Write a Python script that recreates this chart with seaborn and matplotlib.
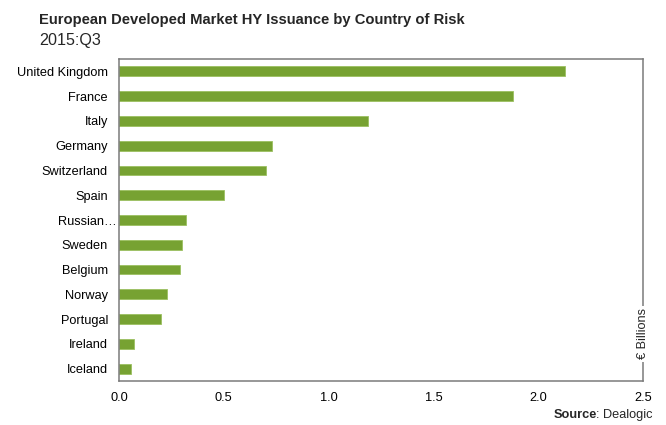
import matplotlib
matplotlib.use("Agg")
import matplotlib.pyplot as plt
import matplotlib.transforms as mtransforms
import seaborn as sns
import pandas as pd

countries = ["United Kingdom", "France", "Italy", "Germany", "Switzerland", "Spain",
             "Russian\u2026", "Sweden", "Belgium", "Norway", "Portugal", "Ireland", "Iceland"]
issuance = [2.13, 1.88, 1.19, 0.73, 0.70, 0.50, 0.32, 0.30, 0.29, 0.23, 0.20, 0.073, 0.057]
x_ticks = [0.0, 0.5, 1.0, 1.5, 2.0, 2.5]

df = pd.DataFrame({"country": countries, "value": issuance})

sns.set_style("white")
plt.rcParams["font.family"] = ["Liberation Sans", "DejaVu Sans"]

fig = plt.figure(figsize=(6.66, 4.25), dpi=100)
ax = fig.add_axes([0.1787, 0.1035, 0.7868, 0.7577])

sns.barplot(data=df, x="value", y="country", color="#77A232", width=0.4,
            saturation=1, edgecolor="#9CC060", linewidth=0.6, ax=ax, orient="h")

ax.set_xlim(0, 2.5)
ax.set_ylim(len(countries) - 0.5, -0.5)
ax.set_xticks(x_ticks)
ax.set_xticklabels([f"{t:.1f}" for t in x_ticks])
ax.set_xlabel("")
ax.set_ylabel("")
ax.tick_params(axis="both", length=0, labelsize=9.2, colors="#000000")
ax.tick_params(axis="x", pad=8)
ax.tick_params(axis="y", pad=8)

for s in ax.spines.values():
    s.set_visible(True)
    s.set_color("#7A7A7A")
    s.set_linewidth(1.1)

# let the ellipsis of the truncated label run past the label margin
for lab in ax.get_yticklabels():
    if lab.get_text().endswith("\u2026"):
        lab.set_transform(lab.get_transform() +
                          mtransforms.ScaledTranslation(9 / 100, 0, fig.dpi_scale_trans))

ax.text(1.0, 0.146, "\u20ac Billions", transform=ax.transAxes, rotation=90,
        ha="center", va="center", fontsize=9.2,
        bbox=dict(facecolor="white", edgecolor="none", pad=2.0))

fig.text(39 / 666, 1 - 20 / 425, "European Developed Market HY Issuance by Country of Risk",
         fontsize=10.65, fontweight="bold", ha="left", va="center")
fig.text(39 / 666, 1 - 40 / 425, "2015:Q3", fontsize=11.6, ha="left", va="center")

src = fig.text(652 / 666, 1 - 415 / 425, ": Dealogic", fontsize=9.2, ha="right", va="center")
renderer = fig.canvas.get_renderer()
bb = src.get_window_extent(renderer)
fig.text((bb.x0 + 1.5) / fig.bbox.width, 1 - 415 / 425, "Source", fontsize=9.2,
         fontweight="bold", ha="right", va="center")

fig.savefig("out.png", dpi=100)
